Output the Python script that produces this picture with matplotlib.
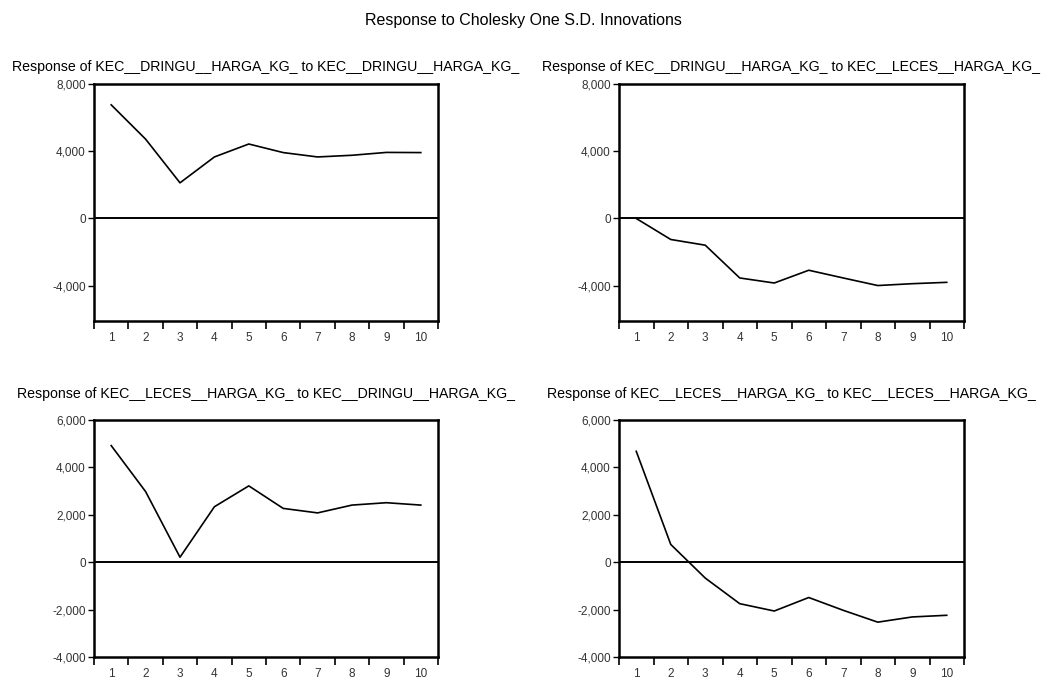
import numpy as np
import matplotlib
matplotlib.use("Agg")
import matplotlib.pyplot as plt
from matplotlib.ticker import FuncFormatter, FixedLocator

plt.rcParams['font.family'] = ['Liberation Sans', 'DejaVu Sans']

periods = [1, 2, 3, 4, 5, 6, 7, 8, 9, 10]

dringu_to_dringu = [6760, 4720, 2120, 3660, 4430, 3920, 3660, 3760, 3930, 3920]
dringu_to_leces = [0, -1250, -1590, -3540, -3840, -3080, -3540, -3990, -3880, -3800]
leces_to_dringu = [4920, 2980, 210, 2340, 3220, 2270, 2080, 2410, 2510, 2410]
leces_to_leces = [4680, 750, -670, -1750, -2060, -1490, -2030, -2530, -2310, -2240]

titles = [
    "Response of KEC__DRINGU__HARGA_KG_ to KEC__DRINGU__HARGA_KG_",
    "Response of KEC__DRINGU__HARGA_KG_ to KEC__LECES__HARGA_KG_",
    "Response of KEC__LECES__HARGA_KG_ to KEC__DRINGU__HARGA_KG_",
    "Response of KEC__LECES__HARGA_KG_ to KEC__LECES__HARGA_KG_",
]
series = [dringu_to_dringu, dringu_to_leces, leces_to_dringu, leces_to_leces]

top_yticks = [-4000, 0, 4000, 8000]
bottom_yticks = [-4000, -2000, 0, 2000, 4000, 6000]

fig = plt.figure(figsize=(10.46, 6.81), dpi=100)

W, H = 1046.0, 681.0
boxes = [
    (94, 84, 438, 321),
    (619, 84, 964, 321),
    (94, 420, 438, 657),
    (619, 420, 964, 657),
]

fmt = FuncFormatter(lambda v, p: "{:,.0f}".format(v))

for i, (x0, y0, x1, y1) in enumerate(boxes):
    ax = fig.add_axes([x0 / W, 1 - y1 / H, (x1 - x0) / W, (y1 - y0) / H])
    ax.plot(periods, series[i], color="black", lw=1.2)
    ax.axhline(0, color="black", lw=1.4)
    ax.set_xlim(0.5, 10.5)
    if i < 2:
        ax.set_ylim(-6100, 8000)
        ax.set_yticks(top_yticks)
    else:
        ax.set_ylim(-4000, 6000)
        ax.set_yticks(bottom_yticks)
    ax.yaxis.set_major_formatter(fmt)

    # ticks at period boundaries, labels centred on periods
    ax.xaxis.set_major_locator(FixedLocator(np.arange(0.5, 11, 1)))
    ax.xaxis.set_minor_locator(FixedLocator(periods))
    ax.xaxis.set_major_formatter(FuncFormatter(lambda v, p: ""))
    ax.xaxis.set_minor_formatter(FuncFormatter(lambda v, p: "%d" % v))
    ax.tick_params(axis="x", which="major", direction="out", length=6, width=1.2)
    ax.tick_params(axis="x", which="minor", length=0, pad=8, labelsize=8.5, labelcolor="#333333")
    ax.tick_params(axis="y", direction="out", length=4, width=1, labelsize=8.5, labelcolor="#333333", pad=2)

    for s in ax.spines.values():
        s.set_linewidth(1.8)

    ax.set_title(titles[i], fontsize=10.2, pad=9 if i < 2 else 16)

fig.suptitle("Response to Cholesky One S.D. Innovations", fontsize=11.5, y=1 - 20 / H, va="center")

fig.savefig("out.png", dpi=100)
